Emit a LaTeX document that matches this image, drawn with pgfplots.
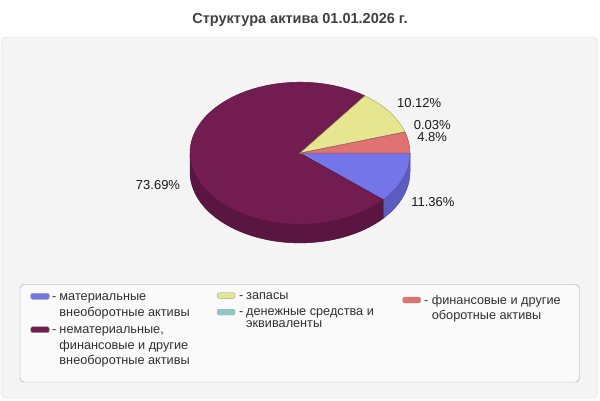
\documentclass[border=0pt]{standalone}
\usepackage{fontspec}
\setmainfont{Liberation Sans}
\usepackage{pgfplots}
\usepackage{pgfplotstable}
\pgfplotsset{compat=1.18}

% slice colours (top) and side colours
\definecolor{slice0}{HTML}{7575EA}
\definecolor{slice1}{HTML}{731C52}
\definecolor{slice2}{HTML}{E6E690}
\definecolor{slice3}{HTML}{8CC9C9}
\definecolor{slice4}{HTML}{E07272}
\definecolor{side0}{HTML}{5B5BC0}
\definecolor{side1}{HTML}{5A1541}
\definecolor{side2}{HTML}{B8B870}
\definecolor{side3}{HTML}{70A0A0}
\definecolor{side4}{HTML}{B35A5A}
\definecolor{panelbg}{HTML}{F4F4F4}
\definecolor{panelline}{HTML}{DCDCDC}
\definecolor{legbg}{HTML}{FAFAFA}
\definecolor{legline}{HTML}{A0A0A0}
\definecolor{titlecol}{HTML}{404040}
\definecolor{txt}{HTML}{303030}

\pgfplotstableread{
value
11.36
73.69
10.12
0.03
4.80
}\piedata

\tikzset{
  lab/.style={font=\fontsize{13bp}{15bp}\selectfont, text=black!90, inner sep=0pt},
  leg/.style={font=\fontsize{12.7bp}{15bp}\selectfont, text=txt, inner sep=0pt, anchor=base west},
}

\begin{document}
\begin{tikzpicture}
% cumulative angles, clockwise from east
\gdef\cum{0}
\pgfplotsforeachungrouped \i in {0,...,4}{%
  \pgfplotstablegetelem{\i}{value}\of\piedata
  \pgfmathsetmacro\endang{\cum-3.6*\pgfplotsretval}%
  \pgfmathsetmacro\xa{300+110*cos(\cum)}%
  \pgfmathsetmacro\ya{246.8+71*sin(\cum)}%
  \pgfmathsetmacro\sidelo{max(\endang,-180)}%
  \pgfmathsetmacro\sidehi{min(\cum,0)}%
  \pgfmathsetmacro\xh{300+110*cos(\sidehi)}%
  \pgfmathsetmacro\yh{246.8+71*sin(\sidehi)}%
  \expandafter\xdef\csname s\i\endcsname{\cum}%
  \expandafter\xdef\csname e\i\endcsname{\endang}%
  \expandafter\xdef\csname xa\i\endcsname{\xa}%
  \expandafter\xdef\csname ya\i\endcsname{\ya}%
  \expandafter\xdef\csname lo\i\endcsname{\sidelo}%
  \expandafter\xdef\csname hi\i\endcsname{\sidehi}%
  \expandafter\xdef\csname xh\i\endcsname{\xh}%
  \expandafter\xdef\csname yh\i\endcsname{\yh}%
  \xdef\cum{\endang}%
}
\begin{axis}[
  x=1bp, y=1bp,
  xmin=0, xmax=600, ymin=0, ymax=400,
  hide axis, clip=false,
]
\fill[white] (axis cs:0,0) rectangle (axis cs:600,400);
\filldraw[fill=panelbg, draw=panelline, rounded corners=5bp] (axis cs:1,2) rectangle (axis cs:597.5,363);
\node[font=\fontsize{14.5bp}{16bp}\selectfont\bfseries, text=titlecol, inner sep=0pt] at (axis cs:300,380) {Структура актива 01.01.2026 г.};

% sides
\pgfplotsinvokeforeach{0,...,4}{%
  \ifdim\csname lo#1\endcsname pt<\csname hi#1\endcsname pt
    \edef\temp{\noexpand\filldraw[fill=side#1, draw=side#1!85!black, line width=0.5bp]
      (axis cs:\csname xh#1\endcsname,\csname yh#1\endcsname)
      arc[start angle=\csname hi#1\endcsname, end angle=\csname lo#1\endcsname, x radius=110bp, y radius=71bp]
      -- ++(0,-18.7bp)
      arc[start angle=\csname lo#1\endcsname, end angle=\csname hi#1\endcsname, x radius=110bp, y radius=71bp]
      -- cycle;}%
    \temp
  \fi
}
% top slices
\pgfplotsinvokeforeach{0,...,4}{%
  \edef\temp{\noexpand\filldraw[fill=slice#1, draw=slice#1!75!black, line width=0.5bp]
    (axis cs:300,246.8) -- (axis cs:\csname xa#1\endcsname,\csname ya#1\endcsname)
    arc[start angle=\csname s#1\endcsname, end angle=\csname e#1\endcsname, x radius=110bp, y radius=71bp]
    -- cycle;}%
  \temp
}

% value labels
\node[lab] at (axis cs:419.2,296.7) {10.12\%};
\node[lab] at (axis cs:432.2,275) {0.03\%};
\node[lab] at (axis cs:432.2,263.3) {4.8\%};
\node[lab] at (axis cs:432.9,198.3) {11.36\%};
\node[lab] at (axis cs:158,215) {73.69\%};

% legend
\filldraw[fill=legbg, draw=legline, rounded corners=4bp] (axis cs:20,18) rectangle (axis cs:579.5,115.5);
\filldraw[fill=slice0, draw=legline, rounded corners=2bp] (axis cs:30.7,100.7) rectangle (axis cs:49.3,106.7);
\filldraw[fill=slice1, draw=legline, rounded corners=2bp] (axis cs:30.7,67.3) rectangle (axis cs:49.3,73.3);
\filldraw[fill=slice2, draw=legline, rounded corners=2bp] (axis cs:217.3,101.7) rectangle (axis cs:235,107.3);
\filldraw[fill=slice3, draw=legline, rounded corners=2bp] (axis cs:217.3,85) rectangle (axis cs:235,90.7);
\filldraw[fill=slice4, draw=legline, rounded corners=2bp] (axis cs:402.7,97) rectangle (axis cs:420.7,103);

\node[leg] at (axis cs:52,99.3) {-};
\node[leg] at (axis cs:59.3,99.3) {материальные};
\node[leg] at (axis cs:59.3,83.3) {внеоборотные активы};
\node[leg] at (axis cs:52,66.6) {-};
\node[leg] at (axis cs:59.3,66.6) {нематериальные,};
\node[leg] at (axis cs:59.3,51) {финансовые и другие};
\node[leg] at (axis cs:59.3,36) {внеоборотные активы};

\node[leg] at (axis cs:238.8,101) {-};
\node[leg] at (axis cs:246,101) {запасы};
\node[leg] at (axis cs:238.8,84.8) {-};
\node[leg] at (axis cs:246,84.8) {денежные средства и};
\node[leg] at (axis cs:246,72.8) {эквиваленты};

\node[leg] at (axis cs:424,96) {-};
\node[leg] at (axis cs:431.7,96) {финансовые и другие};
\node[leg] at (axis cs:431.7,80.6) {оборотные активы};
\end{axis}
\end{tikzpicture}
\end{document}
